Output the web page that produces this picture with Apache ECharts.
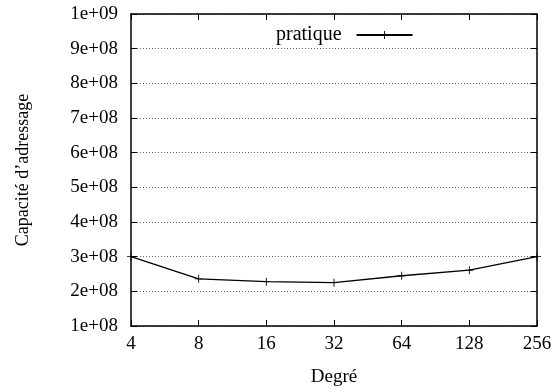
<!DOCTYPE html>
<html>
<head>
<meta charset="utf-8">
<script src="https://cdn.jsdelivr.net/npm/echarts@6/dist/echarts.min.js"></script>
<style>
html, body { margin: 0; padding: 0; background: #fff; }
#main { width: 559px; height: 392px; }
</style>
</head>
<body>
<div id="main"></div>
<script>
var degres = ['4', '8', '16', '32', '64', '128', '256'];
var pratique = [3.0e8, 2.36e8, 2.28e8, 2.25e8, 2.45e8, 2.61e8, 3.0e8];
var yMin = 1e8, yMax = 1e9, yStep = 1e8;

var myChart = echarts.init(document.getElementById('main'));
var font = 'Liberation Serif';
var fs = 19;
var plus = 'path://M4,0h1v4h4v1h-4v4h-1v-4h-4v-1h4z';

function sci(v) {
    var e = Math.floor(Math.log10(v) + 1e-9);
    var m = Math.round(v / Math.pow(10, e));
    return m + 'e+' + (e < 10 ? '0' + e : e);
}

var tickStyle = { show: true, inside: true, length: 6, lineStyle: { color: '#000', width: 1 } };

option = {
    animation: false,
    textStyle: { fontFamily: font },
    grid: { left: 131, right: 22, top: 14, bottom: 66 },
    legend: {
        show: true,
        left: 271,
        top: 20,
        align: 'right',
        itemWidth: 56,
        itemHeight: 10,
        itemGap: 4,
        textStyle: { fontFamily: font, fontSize: fs + 1, color: '#000', padding: [0, 10, 0, 0] },
        data: ['pratique']
    },
    xAxis: [{
        type: 'category',
        data: degres,
        boundaryGap: false,
        name: 'Degré',
        nameLocation: 'middle',
        nameGap: 42,
        nameTextStyle: { fontFamily: font, fontSize: fs, color: '#000' },
        axisLine: { show: true, lineStyle: { color: '#000', width: 1.5 } },
        axisTick: tickStyle,
        axisLabel: { fontFamily: font, fontSize: fs, color: '#000', margin: 9 },
        splitLine: { show: false }
    }, {
        type: 'category',
        data: degres,
        boundaryGap: false,
        position: 'top',
        axisLine: { show: true, lineStyle: { color: '#000', width: 1.5 } },
        axisTick: tickStyle,
        axisLabel: { show: false },
        splitLine: { show: false }
    }],
    yAxis: [{
        type: 'value',
        min: yMin,
        max: yMax,
        interval: yStep,
        name: 'Capacité d’adressage',
        nameLocation: 'middle',
        nameGap: 99,
        nameTextStyle: { fontFamily: font, fontSize: 18, color: '#000' },
        axisLine: { show: true, lineStyle: { color: '#000', width: 1.5 } },
        axisTick: tickStyle,
        axisLabel: { fontFamily: font, fontSize: fs, color: '#000', margin: 13, formatter: sci },
        splitLine: { show: true, lineStyle: { color: '#666', type: [1, 2], width: 1 } }
    }, {
        type: 'value',
        min: yMin,
        max: yMax,
        interval: yStep,
        position: 'right',
        axisLine: { show: true, lineStyle: { color: '#000', width: 1.5 } },
        axisTick: tickStyle,
        axisLabel: { show: false },
        splitLine: { show: false }
    }],
    series: [{
        name: 'pratique',
        type: 'line',
        data: pratique,
        symbol: plus,
        symbolSize: 8,
        showAllSymbol: true,
        itemStyle: { color: '#000' },
        lineStyle: { color: '#000', width: 1.3 }
    }]
};

myChart.setOption(option, true);
</script>
</body>
</html>
